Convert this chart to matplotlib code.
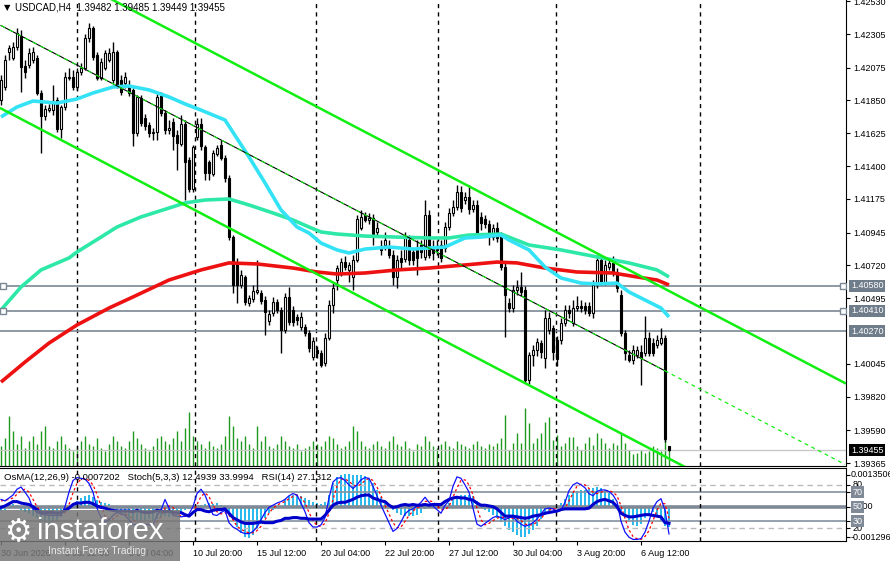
import numpy as np
import matplotlib.pyplot as plt
from matplotlib.patches import Rectangle
from matplotlib.transforms import blended_transform_factory

plt.rcParams['font.family'] = ['Liberation Sans', 'DejaVu Sans']

# ---- price data, USDCAD H4 ----
opens = [1.41853, 1.41942, 1.42182, 1.42141, 1.42216, 1.42291, 1.42086, 1.42093, 1.42127, 1.42141,
         1.41901, 1.41743, 1.41784, 1.41784, 1.41853, 1.41654, 1.41805, 1.42004, 1.42011, 1.41942,
         1.42045, 1.42072, 1.42278, 1.42346, 1.42161, 1.42004, 1.42072, 1.42127, 1.41990, 1.42182,
         1.41990, 1.41970, 1.41949, 1.41922, 1.41627, 1.41867, 1.41730, 1.41682, 1.41627, 1.41634,
         1.41880, 1.41764, 1.41648, 1.41702, 1.41613, 1.41552, 1.41689, 1.41442, 1.41243, 1.41600,
         1.41689, 1.41531, 1.41428, 1.41346, 1.41483, 1.41545, 1.41456, 1.41319, 1.40914, 1.40737,
         1.40586, 1.40640, 1.40462, 1.40490, 1.40538, 1.40531, 1.40483, 1.40339, 1.40394, 1.40469,
         1.40415, 1.40278, 1.40504, 1.40415, 1.40367, 1.40298, 1.40298, 1.40257, 1.40093, 1.40141,
         1.40120, 1.40052, 1.40223, 1.40449, 1.40620, 1.40668, 1.40743, 1.40689, 1.40640, 1.40757,
         1.40976, 1.41065, 1.41031, 1.41045, 1.40949, 1.40853, 1.40860, 1.40846, 1.40791, 1.40640,
         1.40771, 1.40764, 1.40894, 1.40812, 1.40826, 1.40860, 1.40778, 1.41065, 1.40846, 1.40846,
         1.40860, 1.40839, 1.40983, 1.41079, 1.41120, 1.41223, 1.41168, 1.41188, 1.41106, 1.41134,
         1.41052, 1.41038, 1.41004, 1.40914, 1.40976, 1.40921, 1.40709, 1.40462, 1.40428, 1.40551,
         1.40572, 1.40551, 1.39935, 1.40107, 1.40141, 1.40189, 1.40086, 1.40278, 1.40291, 1.40209,
         1.40209, 1.40326, 1.40415, 1.40326, 1.40428, 1.40442, 1.40442, 1.40442, 1.40394, 1.40586,
         1.40757, 1.40606, 1.40709, 1.40737, 1.40675, 1.40517, 1.40257, 1.40107, 1.40072, 1.40107,
         1.40127, 1.40120, 1.40223, 1.40189, 1.40175, 1.40189, 1.40223, 1.39482]
highs = [1.42024, 1.42161, 1.42230, 1.42250, 1.42346, 1.42333, 1.42127, 1.42209, 1.42216, 1.42161,
         1.41922, 1.41819, 1.41826, 1.41956, 1.41874, 1.41819, 1.42045, 1.42072, 1.42059, 1.42072,
         1.42106, 1.42305, 1.42380, 1.42360, 1.42182, 1.42141, 1.42196, 1.42209, 1.42250, 1.42196,
         1.42024, 1.42045, 1.41990, 1.41935, 1.41887, 1.41887, 1.41757, 1.41702, 1.41661, 1.41894,
         1.41908, 1.41784, 1.41716, 1.41730, 1.41648, 1.41750, 1.41716, 1.41463, 1.41545, 1.41730,
         1.41730, 1.41545, 1.41442, 1.41510, 1.41545, 1.41579, 1.41476, 1.41339, 1.40928, 1.40771,
         1.40689, 1.40654, 1.40517, 1.40586, 1.40757, 1.40551, 1.40510, 1.40415, 1.40504, 1.40490,
         1.40435, 1.40531, 1.40572, 1.40442, 1.40387, 1.40401, 1.40319, 1.40278, 1.40230, 1.40168,
         1.40141, 1.40257, 1.40483, 1.40599, 1.40723, 1.40771, 1.40784, 1.40743, 1.40791, 1.41065,
         1.41100, 1.41086, 1.41079, 1.41072, 1.41017, 1.40894, 1.40949, 1.40894, 1.40826, 1.40791,
         1.40826, 1.40949, 1.40928, 1.40839, 1.40894, 1.40894, 1.41168, 1.41100, 1.40894, 1.40894,
         1.40894, 1.41017, 1.41113, 1.41168, 1.41271, 1.41264, 1.41223, 1.41271, 1.41168, 1.41168,
         1.41086, 1.41065, 1.41031, 1.41004, 1.41017, 1.40949, 1.40743, 1.40497, 1.40586, 1.40620,
         1.40675, 1.40579, 1.40127, 1.40175, 1.40223, 1.40209, 1.40415, 1.40401, 1.40312, 1.40237,
         1.40360, 1.40449, 1.40449, 1.40483, 1.40510, 1.40483, 1.40469, 1.40469, 1.40620, 1.40791,
         1.40784, 1.40757, 1.40771, 1.40784, 1.40702, 1.40551, 1.40278, 1.40141, 1.40175, 1.40168,
         1.40175, 1.40373, 1.40264, 1.40223, 1.40243, 1.40291, 1.40243, 1.39485]
lows = [1.41819, 1.41922, 1.42127, 1.42127, 1.42196, 1.41908, 1.42004, 1.42072, 1.42106, 1.41887,
        1.41490, 1.41716, 1.41771, 1.41750, 1.41634, 1.41593, 1.41784, 1.41990, 1.41922, 1.41922,
        1.42024, 1.42059, 1.42250, 1.42127, 1.41990, 1.41990, 1.42059, 1.42113, 1.41970, 1.41935,
        1.41887, 1.41935, 1.41880, 1.41538, 1.41606, 1.41675, 1.41648, 1.41600, 1.41579, 1.41579,
        1.41743, 1.41620, 1.41620, 1.41510, 1.41374, 1.41538, 1.41168, 1.41223, 1.41223, 1.41579,
        1.41510, 1.41305, 1.41305, 1.41332, 1.41469, 1.41442, 1.41291, 1.40894, 1.40531, 1.40462,
        1.40565, 1.40449, 1.40442, 1.40469, 1.40524, 1.40456, 1.40243, 1.40312, 1.40373, 1.40394,
        1.40120, 1.40257, 1.40312, 1.40305, 1.40312, 1.40278, 1.40237, 1.40127, 1.40072, 1.40086,
        1.40024, 1.40031, 1.40209, 1.40394, 1.40551, 1.40647, 1.40689, 1.40606, 1.40551, 1.40743,
        1.40963, 1.41017, 1.41004, 1.40860, 1.40928, 1.40791, 1.40826, 1.40771, 1.40586, 1.40565,
        1.40702, 1.40743, 1.40723, 1.40723, 1.40654, 1.40771, 1.40757, 1.40771, 1.40757, 1.40791,
        1.40743, 1.40812, 1.40963, 1.41058, 1.41100, 1.41086, 1.41141, 1.41072, 1.41086, 1.40921,
        1.40963, 1.40976, 1.40860, 1.40894, 1.40880, 1.40689, 1.40230, 1.40401, 1.40401, 1.40517,
        1.40510, 1.39915, 1.39908, 1.40031, 1.40100, 1.40086, 1.40017, 1.40250, 1.40072, 1.40031,
        1.40182, 1.40305, 1.40360, 1.40305, 1.40408, 1.40401, 1.40387, 1.40373, 1.40360, 1.40565,
        1.40586, 1.40586, 1.40689, 1.40647, 1.40538, 1.40237, 1.40072, 1.40058, 1.40045, 1.40086,
        1.39901, 1.40100, 1.40100, 1.40100, 1.40155, 1.40175, 1.39510, 1.39449]
closes = [1.41990, 1.42127, 1.42209, 1.42216, 1.42312, 1.42079, 1.42045, 1.42175, 1.42182, 1.41901,
          1.41743, 1.41791, 1.41798, 1.41832, 1.41654, 1.41805, 1.42011, 1.42011, 1.41942, 1.42045,
          1.42072, 1.42278, 1.42346, 1.42148, 1.42004, 1.42113, 1.42175, 1.42175, 1.42182, 1.41956,
          1.41908, 1.42011, 1.41901, 1.41627, 1.41874, 1.41696, 1.41675, 1.41627, 1.41634, 1.41874,
          1.41764, 1.41648, 1.41661, 1.41606, 1.41558, 1.41689, 1.41428, 1.41243, 1.41531, 1.41689,
          1.41538, 1.41353, 1.41353, 1.41490, 1.41524, 1.41456, 1.41319, 1.40914, 1.40586, 1.40586,
          1.40654, 1.40469, 1.40497, 1.40545, 1.40551, 1.40476, 1.40401, 1.40387, 1.40469, 1.40415,
          1.40278, 1.40504, 1.40332, 1.40332, 1.40346, 1.40367, 1.40257, 1.40155, 1.40202, 1.40120,
          1.40038, 1.40223, 1.40449, 1.40565, 1.40702, 1.40743, 1.40709, 1.40723, 1.40757, 1.41038,
          1.41052, 1.41031, 1.41045, 1.40935, 1.40976, 1.40826, 1.40894, 1.40791, 1.40640, 1.40757,
          1.40743, 1.40908, 1.40757, 1.40757, 1.40771, 1.40812, 1.41065, 1.40791, 1.40805, 1.40826,
          1.40771, 1.40983, 1.41079, 1.41120, 1.41223, 1.41113, 1.41188, 1.41106, 1.41134, 1.40942,
          1.41011, 1.41004, 1.40914, 1.40976, 1.40908, 1.40709, 1.40517, 1.40428, 1.40551, 1.40572,
          1.40538, 1.39935, 1.40107, 1.40141, 1.40195, 1.40127, 1.40360, 1.40360, 1.40127, 1.40079,
          1.40326, 1.40415, 1.40394, 1.40428, 1.40442, 1.40428, 1.40415, 1.40394, 1.40586, 1.40757,
          1.40606, 1.40723, 1.40737, 1.40668, 1.40565, 1.40257, 1.40120, 1.40072, 1.40141, 1.40141,
          1.40086, 1.40223, 1.40120, 1.40120, 1.40209, 1.40223, 1.39531, 1.39455]

# tick volume
volumes = [2000, 2800, 5000, 3500, 2200, 3000, 1800, 2500, 3000, 2200,
           3500, 4000, 2000, 1800, 2500, 3000, 2200, 1800, 1500, 2000,
           2500, 3000, 2200, 2000, 2800, 1800, 1500, 2200, 3000, 2500,
           2000, 1800, 2500, 3500, 2800, 2200, 1800, 1500, 2000, 2800,
           3000, 2500, 2200, 2800, 3500, 2500, 3800, 5400, 3000, 2500,
           2200, 1800, 2500, 2000, 1800, 2200, 3000, 5000, 4000, 2800,
           2500, 3000, 2200, 1800, 4000, 2500, 3000, 2000, 1800, 2200,
           3000, 2500, 2000, 1800, 2200, 1500, 1800, 2000, 2500, 2200,
           2000, 2500, 3000, 2800, 2200, 1800, 2000, 2500, 4000, 3500,
           2500, 2000, 1800, 2200, 2500, 2000, 1800, 2500, 3000, 2200,
           2000, 2500, 1800, 1500, 2200, 2000, 3000, 2500, 2000, 1800,
           2200, 2500, 2000, 1800, 2500, 2200, 2000, 1800, 2200, 2500,
           2000, 1800, 2200, 2000, 2300, 2800, 5100, 1600, 2300, 3300,
           2300, 5800, 4300, 2300, 2800, 3300, 4400, 4900, 2600, 3100,
           2000, 2300, 2900, 2900, 2000, 1600, 2300, 2900, 2100, 3300,
           2800, 2300, 1800, 2300, 2100, 3300, 2300, 1600, 1200, 1300,
           1600, 1300, 1500, 2000, 1800, 1500, 2800, 2000]

# moving averages, read at sample bars
ma_fast_bar = [0, 4, 8, 14, 19, 23, 28, 32, 37, 42, 46, 50, 56, 62, 66, 70, 74, 77, 80, 84,
               87, 91, 97, 103, 107, 111, 116, 120, 125, 127, 132, 136, 140, 145, 149, 154,
               157, 161, 165, 167]
ma_fast = [1.41737, 1.41805, 1.41846, 1.41832, 1.41860, 1.41901, 1.41942, 1.41949, 1.41922,
           1.41874, 1.41826, 1.41784, 1.41716, 1.41463, 1.41285, 1.41100, 1.40983, 1.40942,
           1.40873, 1.40826, 1.40805, 1.40832, 1.40846, 1.40832, 1.40839, 1.40846, 1.40908,
           1.40914, 1.40928, 1.40894, 1.40826, 1.40709, 1.40634, 1.40599, 1.40593, 1.40599,
           1.40538, 1.40483, 1.40428, 1.40367]
ma_mid_bar = [0, 5, 10, 17, 19, 25, 29, 35, 42, 46, 51, 57, 62, 68, 73, 77, 80, 84, 91, 99,
              107, 112, 117, 125, 132, 140, 149, 157, 164, 167]
ma_mid = [1.40415, 1.40572, 1.40689, 1.40771, 1.40812, 1.40914, 1.40983, 1.41052, 1.41113,
          1.41148, 1.41168, 1.41175, 1.41134, 1.41079, 1.41031, 1.40983, 1.40949, 1.40935,
          1.40921, 1.40914, 1.40908, 1.40908, 1.40928, 1.40935, 1.40860, 1.40826, 1.40778,
          1.40737, 1.40689, 1.40641]
ma_slow_bar = [0, 6, 12, 19, 27, 33, 42, 50, 57, 64, 73, 79, 84, 91, 99, 107, 116, 124, 129,
               136, 144, 153, 159, 164, 167]
ma_slow = [1.39921, 1.40058, 1.40188, 1.40312, 1.40428, 1.40504, 1.40620, 1.40689, 1.40737,
           1.40730, 1.40702, 1.40675, 1.40661, 1.40668, 1.40689, 1.40702, 1.40723, 1.40743,
           1.40737, 1.40702, 1.40675, 1.40668, 1.40641, 1.40620, 1.40586]

# channel lines (bar, price endpoints)
chan_upper_bar = [0, 211]
chan_upper = [1.42939, 1.39914]
chan_lower_bar = [0, 211]
chan_lower = [1.41795, 1.38765]
trend_bar = [0, 166, 211]
trend = [1.42363, 1.39998, 1.39357]

levels = [1.40580, 1.40410, 1.40270]
last_price = 1.39455

price_ticks = [1.42530, 1.42305, 1.42075, 1.41850, 1.41625, 1.41400, 1.41175, 1.40945,
               1.40720, 1.40495, 1.40045, 1.39820, 1.39590, 1.39365]

# ---- indicator window ----
osma_e5 = [-14, -11, 7, 11, 7, -11, -18, -25, -32, -39, -49, -56, -56, -53, -49, -35, -18, -4,
           11, 21, 32, 39, 42, 35, 25, 18, 14, 11, 0, -14, -25, -32, -39, -46, -49, -49, -46,
           -42, -46, -42, -35, -32, -35, -28, -21, -14, -11, -7, -4, 4, 7, 11, 14, 11, 14, 7,
           -4, -21, -46, -70, -91, -105, -109, -98, -77, -60, -39, -21, -11, -4, 4, 28, 39, 42,
           42, 39, 32, 25, 18, 14, 11, 18, 42, 84, 105, 112, 116, 116, 112, 112, 112, 109, 98,
           84, 60, 35, 18, 4, -11, -21, -28, -32, -32, -32, -28, -21, -7, 4, 7, 0, -4, 4, 14,
           28, 35, 42, 42, 42, 39, 21, 7, -11, -18, -28, -39, -53, -67, -81, -88, -98, -105,
           -105, -95, -81, -67, -42, -28, -14, -4, 0, 14, 28, 42, 53, 56, 60, 60, 63, 67, 70,
           67, 60, 49, 28, 7, -14, -32, -46, -63, -67, -60, -39, -25, -18, -28, -49, -67, -72]
stoch_main = [60, 58, 62, 66, 74, 77, 70, 62, 47, 42, 40, 39, 38, 38, 38, 38, 50, 70, 86, 90,
              89, 88, 82, 70, 48, 35, 29, 32, 38, 42, 40, 38, 32, 25, 26, 27, 26, 25, 25, 38,
              45, 60, 48, 38, 37, 36, 37, 40, 50, 68, 74, 66, 52, 39, 38, 42, 45, 28, 22, 19,
              15, 13, 13, 16, 22, 32, 42, 49, 52, 55, 57, 60, 65, 68, 66, 55, 43, 28, 22, 22,
              25, 35, 62, 84, 89, 90, 86, 80, 75, 80, 87, 90, 89, 78, 65, 52, 40, 28, 16, 20,
              29, 40, 45, 47, 51, 56, 63, 56, 51, 46, 41, 52, 58, 78, 91, 89, 80, 70, 48, 26,
              23, 27, 31, 35, 37, 35, 32, 35, 36, 30, 26, 23, 25, 28, 33, 40, 47, 48, 47, 43,
              45, 56, 72, 80, 83, 80, 76, 68, 65, 71, 73, 73, 71, 66, 57, 30, 15, 8, 5, 5,
              6, 15, 30, 48, 57, 61, 45, 12.49]
stoch_signal = [58, 59, 60, 62, 67, 72, 74, 70, 60, 50, 43, 40, 39, 38, 38, 38, 42, 53, 69, 82,
                88, 89, 86, 80, 67, 51, 37, 32, 33, 37, 40, 40, 37, 32, 28, 26, 26, 26, 25, 29,
                36, 48, 51, 49, 41, 37, 37, 38, 42, 53, 64, 69, 64, 52, 43, 40, 42, 38, 32, 23,
                19, 16, 14, 14, 17, 23, 32, 41, 48, 52, 55, 57, 61, 64, 66, 63, 55, 42, 31, 24,
                23, 27, 41, 60, 78, 88, 88, 85, 80, 78, 81, 86, 89, 86, 77, 65, 52, 40, 28, 21,
                22, 30, 38, 44, 48, 51, 57, 58, 57, 51, 46, 46, 50, 63, 76, 86, 87, 80, 66, 48,
                32, 25, 27, 31, 34, 36, 35, 34, 34, 34, 31, 26, 25, 25, 29, 34, 40, 45, 48, 46,
                45, 48, 58, 69, 78, 81, 80, 75, 70, 68, 70, 72, 72, 70, 65, 51, 34, 18, 9, 6,
                5, 9, 17, 31, 45, 55, 54, 34.0]
rsi = [49, 51, 54, 57, 57, 55, 54, 53, 50, 46, 42, 42, 42, 42, 41, 42, 45, 48, 53, 55,
       55, 56, 56, 54, 51, 49, 48, 46, 45, 44, 44, 44, 44, 43, 45, 43, 42, 42, 43, 45,
       44, 43, 44, 42, 41, 42, 39, 37, 42, 46, 46, 44, 43, 45, 46, 46, 47, 41, 35, 32,
       29, 27, 27, 27, 28, 29, 28, 28, 28, 30, 31, 34, 34, 35, 35, 34, 34, 33, 33, 33,
       33, 38, 45, 52, 55, 56, 56, 58, 60, 63, 65, 66, 66, 62, 60, 58, 57, 52, 49, 50,
       52, 53, 52, 53, 52, 52, 53, 52, 53, 53, 53, 57, 60, 62, 63, 62, 62, 60, 59, 55,
       52, 52, 51, 50, 47, 42, 37, 37, 37, 36, 35, 34, 35, 37, 38, 39, 41, 42, 43, 44,
       46, 47, 47, 47, 47, 47, 47, 48, 53, 57, 59, 60, 58, 56, 50, 41, 38, 36, 36, 37,
       38, 39, 39, 38, 37, 36, 28, 27.13]

date_ticks = [0, 16, 32, 48, 64, 80, 96, 112, 128, 144, 160]
date_labels = ['30 Jun 2026', '3 Jul 12:00', '8 Jul 04:00', '10 Jul 20:00', '15 Jul 12:00',
               '20 Jul 04:00', '22 Jul 20:00', '27 Jul 12:00', '30 Jul 04:00', '3 Aug 20:00',
               '6 Aug 12:00']
grid_bars = [19, 48.5, 78.75, 109.25, 138.75, 174.75]

# ---- figure ----
W, H = 890, 561
fig = plt.figure(figsize=(W / 100, H / 100), dpi=100)
ax = fig.add_axes([0, 1 - 466 / H, 846 / W, 466 / H])
axv = ax.twinx()
ax.set_zorder(axv.get_zorder() + 1)
ax.patch.set_visible(False)

x = np.arange(len(closes))
o = np.array(opens)
c = np.array(closes)
up = c >= o

ax.vlines(x, lows, highs, color='black', lw=1, zorder=3)
body_h = np.maximum(np.abs(c - o), 0.000015)
ax.bar(x, body_h, bottom=np.minimum(o, c), width=0.72,
       color=np.where(up, 'white', 'black'), edgecolor='black', linewidth=0.8, zorder=3)

axv.vlines(x, 0, volumes, color='#1f9a1f', lw=1)
axv.set_ylim(0, 46600)
axv.set_yticks([])
for s in axv.spines.values():
    s.set_visible(False)

for lv in levels:
    ax.axhline(lv, color='#7a8795', lw=1.2, zorder=2)
for lv in levels[:2]:
    ax.plot([0.004, 0.9965], [lv, lv], 's', ms=4, mfc='white', mec='#7a8795', mew=1,
            transform=blended_transform_factory(ax.transAxes, ax.transData), zorder=5)
ax.axhline(last_price, color='#c8c8c8', lw=1, zorder=2)

for b in grid_bars:
    ax.axvline(b, color='black', lw=1, ls=(0, (3, 3)), zorder=1)

ax.plot(ma_slow_bar, ma_slow, color='#ee1111', lw=2.6, zorder=4, solid_capstyle='butt')
ax.plot(ma_mid_bar, ma_mid, color='#2ee8a8', lw=2.6, zorder=4, solid_capstyle='butt')
ax.plot(ma_fast_bar, ma_fast, color='#33e3f5', lw=2.6, zorder=4, solid_capstyle='butt')

ax.plot(chan_upper_bar, chan_upper, color='#11ee11', lw=1.8, zorder=4)
ax.plot(chan_lower_bar, chan_lower, color='#11ee11', lw=1.8, zorder=4)
ax.plot(trend_bar[:2], trend[:2], color='black', lw=0.8, zorder=4)
ax.plot(trend_bar[:2], trend[:2], color='#11ee11', lw=0.8, ls=(0, (4, 4)), zorder=4)
ax.plot(trend_bar[1:], trend[1:], color='#11ee11', lw=0.9, ls=(0, (3, 3)), zorder=4)

ax.set_xlim(-0.25, 211.25)
ax.set_ylim(1.39346, 1.42538)
ax.set_xticks([])
ax.yaxis.tick_right()
ax.set_yticks(price_ticks)
ax.set_yticklabels(['%.5f' % p for p in price_ticks], fontsize=6.5)
ax.tick_params(axis='y', length=3, pad=2, width=0.8)
for side in ['top', 'left']:
    ax.spines[side].set_visible(False)

tr = blended_transform_factory(ax.transAxes, ax.transData)
for lv in levels:
    ax.text(1.006, lv, '%.5f' % lv, transform=tr, fontsize=6.5, color='white', va='center',
            ha='left', bbox=dict(facecolor='#6f7c8a', edgecolor='none', pad=1.2), zorder=6,
            clip_on=False)
ax.text(1.006, last_price, '%.5f' % last_price, transform=tr, fontsize=6.5, color='white',
        va='center', ha='left', bbox=dict(facecolor='black', edgecolor='none', pad=1.2),
        zorder=6, clip_on=False)

ax.text(4 / 846, 1 - 8 / 466, '\u25bc', transform=ax.transAxes, fontsize=6, va='center',
        ha='left', family=['DejaVu Sans'])
ax.text(15 / 846, 1 - 8 / 466, 'USDCAD,H4  1.39482 1.39485 1.39449 1.39455',
        transform=ax.transAxes, fontsize=7, va='center', ha='left', zorder=7)

# ---- indicator panel ----
ax2 = fig.add_axes([0, 1 - 541 / H, 846 / W, 73 / H])
ax2o = ax2.twinx()
ax2.set_zorder(ax2o.get_zorder() + 1)
ax2.patch.set_visible(False)

osma = np.array(osma_e5) * 1e-5
ax2o.bar(x, osma, width=0.72, color='#2bb9ee', zorder=1)
ax2o.set_ylim(-0.0012, 0.001355)
ax2o.set_yticks([])
for s in ax2o.spines.values():
    s.set_visible(False)

ax2.axhline(80, color='#bbbbbb', lw=1, ls=(0, (4, 3)))
ax2.axhline(20, color='#bbbbbb', lw=1, ls=(0, (4, 3)))
ax2.axhline(70, color='#8391a0', lw=1.2)
ax2.axhline(30, color='#8391a0', lw=1.2)
ax2.axhline(50, color='#7f8a96', lw=2.6)
for b in grid_bars:
    ax2.axvline(b, color='black', lw=1, ls=(0, (3, 3)))

ax2.plot(x, stoch_signal, color='red', lw=0.9, ls=(0, (2, 2)), zorder=3)
ax2.plot(x, stoch_main, color='#1010ff', lw=0.9, zorder=4)
ax2.plot(x, rsi, color='#0000cc', lw=2.2, zorder=5)

ax2.set_xlim(-0.25, 211.25)
ax2.set_ylim(2.8, 103.2)
ax2.yaxis.tick_right()
ax2.set_yticks([93.6, 80, 70, 50, 30, 20, 8.3])
ax2.set_yticklabels([])
ax2.tick_params(axis='y', length=3, width=0.8)
ax2.set_xticks(date_ticks)
ax2.set_xticklabels(date_labels, fontsize=6.5, ha='left')
ax2.tick_params(axis='x', length=3, pad=3, width=0.8)
ax2.spines['left'].set_visible(False)

tr2 = blended_transform_factory(ax2.transAxes, ax2.transData)
ax2.text(1.006, 93.6, '0.0013506', transform=tr2, fontsize=6.5, va='center', ha='left',
         clip_on=False)
ax2.text(1.006, 8.3, '-0.001296', transform=tr2, fontsize=6.5, va='center', ha='left',
         clip_on=False)
ax2.text(1.006, 50, '0.000', transform=tr2, fontsize=6.5, va='center', ha='left',
         clip_on=False)
for v in [80, 20]:
    ax2.text(1.008, v, str(v), transform=tr2, fontsize=6.5, va='center', ha='left',
             clip_on=False)
for v in [70, 50, 30]:
    ax2.text(1.008, v, str(v), transform=tr2, fontsize=6.5, va='center', ha='left',
             color='white', bbox=dict(facecolor='#7f8a96', edgecolor='none', pad=1),
             clip_on=False, zorder=6)
ax2.text(4 / 846, 1 - 10 / 73, 'OsMA(12,26,9) -0.0007202   Stoch(5,3,3) 12.4939 33.9994   RSI(14) 27.1312',
         transform=ax2.transAxes, fontsize=6.8, va='center', ha='left', zorder=7)

# ---- watermark ----
fig.add_artist(Rectangle((0, 0), 180 / W, 51 / H, transform=fig.transFigure,
                         facecolor='#777777', edgecolor='none', alpha=0.85, zorder=20))
fig.text(4 / W, 1 - 533 / H, '\u2699', color='white', fontsize=22, va='center', ha='left',
         family=['DejaVu Sans'], zorder=21)
fig.text(37 / W, 1 - 531 / H, 'instaforex', color='white', fontsize=21, va='center',
         ha='left', zorder=21)
fig.text(48 / W, 1 - 551 / H, 'Instant Forex Trading', color='#e8e8e8', fontsize=7.5,
         va='center', ha='left', zorder=21)

fig.savefig('out.png', dpi=100, facecolor='white')
